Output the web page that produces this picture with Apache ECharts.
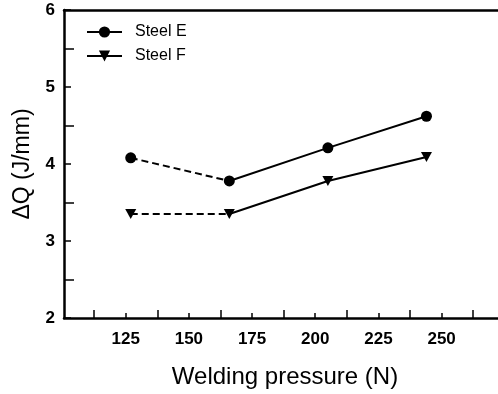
<!DOCTYPE html>
<html>
<head>
<meta charset="utf-8">
<script src="https://cdn.jsdelivr.net/npm/echarts@6/dist/echarts.min.js"></script>
<style>
  html, body { margin: 0; padding: 0; background: #fff; }
  #chart { width: 498px; height: 394px; }
</style>
</head>
<body>
<div id="chart"></div>
<script>
// Welding pressure (N) for each measured weld
const pressure = [127, 166, 205, 244];
// Heat input difference ΔQ (J/mm)
const steelE = [4.08, 3.78, 4.21, 4.62];
const steelF = [3.35, 3.35, 3.78, 4.09];

const xLabelTicks = [125, 150, 175, 200, 225, 250];
const xMidTicks = [112.5, 137.5, 162.5, 187.5, 212.5, 237.5, 262.5];
const yLabelTicks = [2, 3, 4, 5, 6];
const yMidTicks = [2.5, 3.5, 4.5, 5.5];

// first segment is drawn dashed, the rest solid
const pts = (ys, from, to) => pressure.slice(from, to).map((x, i) => [x, ys[from + i]]);

const font = 'Liberation Sans, Arial, Helvetica, sans-serif';
const black = '#000';

const lineSeries = (name, ys, symbol, rotate) => ([
  {
    name: name + ' ',
    type: 'line',
    data: pts(ys, 0, 2),
    symbol: 'none',
    lineStyle: { color: black, width: 2, type: [7, 4] },
    silent: true,
    z: 2
  },
  {
    name: name,
    type: 'line',
    data: pts(ys, 1, 4),
    symbol: symbol,
    symbolSize: symbol === 'circle' ? 11 : [11, 10],
    symbolRotate: rotate,
    showSymbol: true,
    itemStyle: { color: black },
    lineStyle: { color: black, width: 2 },
    z: 3
  },
  {
    name: name + '  ',
    type: 'line',
    data: pts(ys, 0, 1),
    symbol: symbol,
    symbolSize: symbol === 'circle' ? 11 : [11, 10],
    symbolRotate: rotate,
    itemStyle: { color: black },
    lineStyle: { width: 0 },
    z: 3
  }
]);

const xBase = { type: 'value', min: 100.6, max: 272.3, splitLine: { show: false } };
const yBase = { type: 'value', min: 2, max: 6, splitLine: { show: false } };

const chart = echarts.init(document.getElementById('chart'), null, { renderer: 'canvas' });
chart.setOption({
  animation: false,
  backgroundColor: '#fff',
  grid: { left: 64, right: 0, top: 10, bottom: 76 },
  legend: {
    data: ['Steel E', 'Steel F'],
    orient: 'vertical',
    left: 86,
    top: 24,
    padding: 0,
    itemWidth: 35,
    itemHeight: 14,
    itemGap: 8,
    textStyle: { fontFamily: font, fontSize: 16, color: black, padding: [0, 0, 0, 8] }
  },
  xAxis: [
    Object.assign({}, xBase, {
      position: 'bottom',
      name: 'Welding pressure (N)',
      nameLocation: 'middle',
      nameGap: 47,
      nameTextStyle: { fontFamily: font, fontSize: 24, color: black, padding: [0, 0, 0, 8] },
      axisLine: { lineStyle: { color: black, width: 2.5 } },
      axisTick: { inside: true, length: 5, customValues: xLabelTicks, lineStyle: { color: black, width: 1.5 } },
      axisLabel: { customValues: xLabelTicks, margin: 13, fontFamily: font, fontSize: 17, fontWeight: 'bold', color: black }
    }),
    Object.assign({}, xBase, {
      position: 'bottom',
      axisLine: { show: false },
      axisTick: { inside: true, length: 8, customValues: xMidTicks, lineStyle: { color: black, width: 1.5 } },
      axisLabel: { show: false }
    }),
    Object.assign({}, xBase, {
      position: 'top',
      axisLine: { lineStyle: { color: black, width: 2.5 } },
      axisTick: { show: false },
      axisLabel: { show: false }
    })
  ],
  yAxis: [
    Object.assign({}, yBase, {
      position: 'left',
      name: 'ΔQ (J/mm)',
      nameLocation: 'middle',
      nameGap: 30,
      nameTextStyle: { fontFamily: font, fontSize: 23, color: black },
      axisLine: { show: true, lineStyle: { color: black, width: 2.5 } },
      axisTick: { show: true, inside: true, length: 7, customValues: yLabelTicks, lineStyle: { color: black, width: 1.5 } },
      axisLabel: { customValues: yLabelTicks, margin: 9, fontFamily: font, fontSize: 17, fontWeight: 'bold', color: black }
    }),
    Object.assign({}, yBase, {
      position: 'left',
      axisLine: { show: false },
      axisTick: { show: true, inside: true, length: 10, customValues: yMidTicks, lineStyle: { color: black, width: 1.5 } },
      axisLabel: { show: false }
    })
  ],
  series: [
    ...lineSeries('Steel E', steelE, 'circle', 0),
    ...lineSeries('Steel F', steelF, 'triangle', 180)
  ]
});
</script>
</body>
</html>
